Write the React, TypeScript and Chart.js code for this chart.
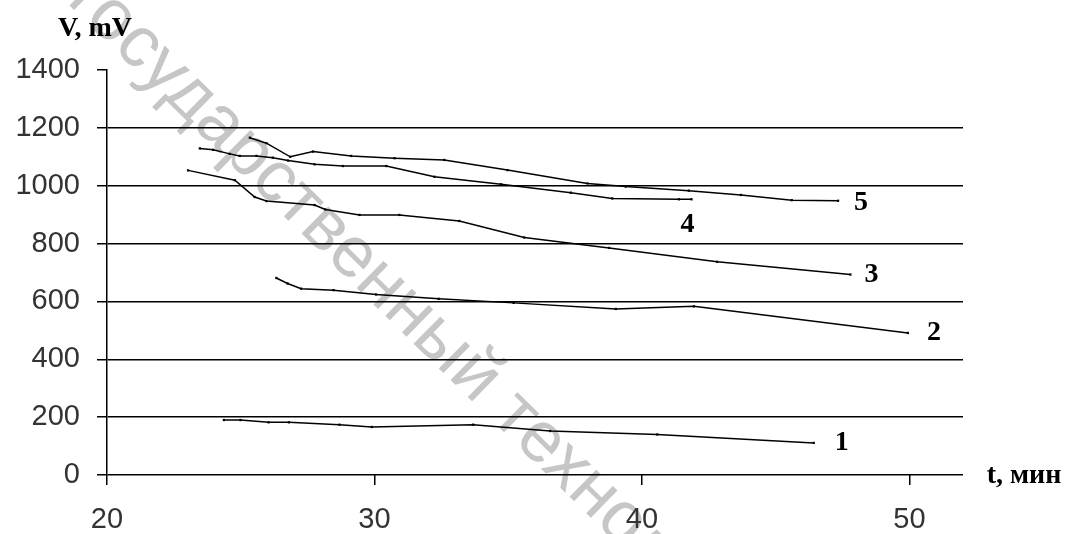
import React, { useEffect, useRef } from "react";
import { Chart, registerables } from "chart.js";
Chart.register(...registerables);

// Curve 1
const s1T = [24.37, 24.99, 26.04, 26.8, 28.69, 29.9, 33.69, 36.57, 40.57, 46.42];
const s1V = [190, 190, 182, 182, 174, 166, 174, 152, 140, 111];
// Curve 2
const s2T = [26.33, 26.75, 27.26, 28.47, 30.06, 32.4, 35.2, 39.02, 41.94, 49.94];
const s2V = [681, 662, 644, 639, 624, 609, 595, 574, 583, 491];
// Curve 3
const s3T = [23.03, 24.78, 25.52, 25.96, 27.76, 28.16, 29.44, 30.93, 33.17, 35.6, 38.77, 42.81, 47.79];
const s3V = [1053, 1019, 961, 947, 933, 918, 899, 899, 878, 821, 785, 737, 693];
// Curve 4
const s4T = [23.47, 23.97, 24.59, 24.96, 25.59, 26.2, 26.77, 27.76, 28.82, 30.44, 32.24, 34.73, 37.34, 38.89, 41.38, 41.85];
const s4V = [1129, 1124, 1110, 1103, 1103, 1097, 1087, 1074, 1068, 1068, 1031, 1005, 976, 956, 953, 953];
// Curve 5
const s5T = [25.34, 25.96, 26.85, 27.7, 29.13, 30.75, 32.61, 34.97, 37.96, 39.39, 41.75, 43.7, 45.6, 47.33];
const s5V = [1166, 1147, 1100, 1118, 1103, 1095, 1089, 1054, 1008, 997, 983, 968, 950, 948];

const curveNames = ["1", "2", "3", "4", "5"];
const xTicks = [20, 30, 40, 50];
const yTicks = [0, 200, 400, 600, 800, 1000, 1200, 1400];
const yTitle = "V, mV";
const xTitle = "t, мин";
const watermarkText = "государственный технологический";

const seriesT = [s1T, s2T, s3T, s4T, s5T];
const seriesV = [s1V, s2V, s3V, s4V, s5V];
// pixel offsets of curve numbers from the last point of each curve
const labelOffsets: [number, number][] = [[28, 0], [26, 0], [21, 0], [-4, 25], [23, 2]];

export default function App() {
  const ref = useRef<HTMLCanvasElement>(null);
  useEffect(() => {
    const canvas = ref.current!;
    const watermark = {
      id: "watermark",
      beforeDraw(chart: any) {
        const ctx = chart.ctx;
        ctx.save();
        ctx.translate(66, 2);
        ctx.rotate((44.5 * Math.PI) / 180);
        ctx.font = '72px "Liberation Sans"';
        ctx.fillStyle = "#c6c6c6";
        ctx.textAlign = "left";
        ctx.textBaseline = "alphabetic";
        ctx.fillText(watermarkText, 0, 0);
        ctx.restore();
      },
    };
    const texts = {
      id: "texts",
      afterDraw(chart: any) {
        const ctx = chart.ctx;
        const xs = chart.scales.x;
        const ys = chart.scales.y;
        ctx.save();
        ctx.fillStyle = "#000";
        ctx.textAlign = "center";
        ctx.textBaseline = "middle";
        ctx.font = 'bold 28px "Liberation Serif"';
        seriesT.forEach((t, i) => {
          const lx = xs.getPixelForValue(t[t.length - 1]) + labelOffsets[i][0];
          const ly = ys.getPixelForValue(seriesV[i][seriesV[i].length - 1]) + labelOffsets[i][1];
          ctx.fillText(curveNames[i], lx, ly);
        });
        ctx.font = 'bold 28px "Liberation Serif"';
        ctx.fillText(yTitle, 95, 29);
        ctx.fillText(xTitle, 1024, 476);
        ctx.restore();
      },
    };
    const chart = new Chart(canvas, {
      type: "scatter",
      data: {
        datasets: seriesT.map((t, i) => ({
          label: curveNames[i],
          data: t.map((x, j) => ({ x, y: seriesV[i][j] })),
          showLine: true,
          borderColor: "#000",
          borderWidth: 1.5,
          backgroundColor: "#000",
          pointStyle: "rect",
          pointRadius: 1.6,
          pointBorderWidth: 0,
          pointBackgroundColor: "#000",
          tension: 0,
        })),
      },
      options: {
        animation: false,
        responsive: false,
        maintainAspectRatio: false,
        layout: { padding: { left: 0, right: 107, top: 70, bottom: 0 } },
        plugins: { legend: { display: false }, tooltip: { enabled: false } },
        scales: {
          x: {
            type: "linear",
            min: 20,
            max: 52,
            afterBuildTicks: (s: any) => {
              s.ticks = xTicks.map((v) => ({ value: v }));
            },
            afterFit: (s: any) => {
              s.height = 59;
            },
            grid: { drawOnChartArea: false, tickLength: 10, color: "#000", lineWidth: 1.5 },
            border: { display: false },
            ticks: {
              color: "#333",
              padding: 18,
              font: { family: '"Liberation Sans"', size: 29 },
              callback: (v: any) => String(v),
            },
          },
          y: {
            type: "linear",
            min: 0,
            max: 1400,
            afterBuildTicks: (s: any) => {
              s.ticks = yTicks.map((v) => ({ value: v }));
            },
            afterFit: (s: any) => {
              s.width = 107;
            },
            grid: {
              color: (c: any) => (c.tick && c.tick.value === 1400 ? "rgba(0,0,0,0)" : "#000"),
              tickColor: "#000",
              tickLength: 10,
              lineWidth: 1.5,
            },
            border: { display: true, color: "#000", width: 1.5 },
            ticks: {
              color: "#333",
              padding: 17,
              font: { family: '"Liberation Sans"', size: 29 },
              callback: (v: any) => String(v),
            },
          },
        },
      },
      plugins: [watermark, texts],
    });
    return () => chart.destroy();
  }, []);
  return (
    <div style={{ position: "fixed", left: 0, top: 0, width: 1070, height: 534, background: "#fff" }}>
      <canvas ref={ref} width={1070} height={534} style={{ width: 1070, height: 534, display: "block" }} />
    </div>
  );
}
